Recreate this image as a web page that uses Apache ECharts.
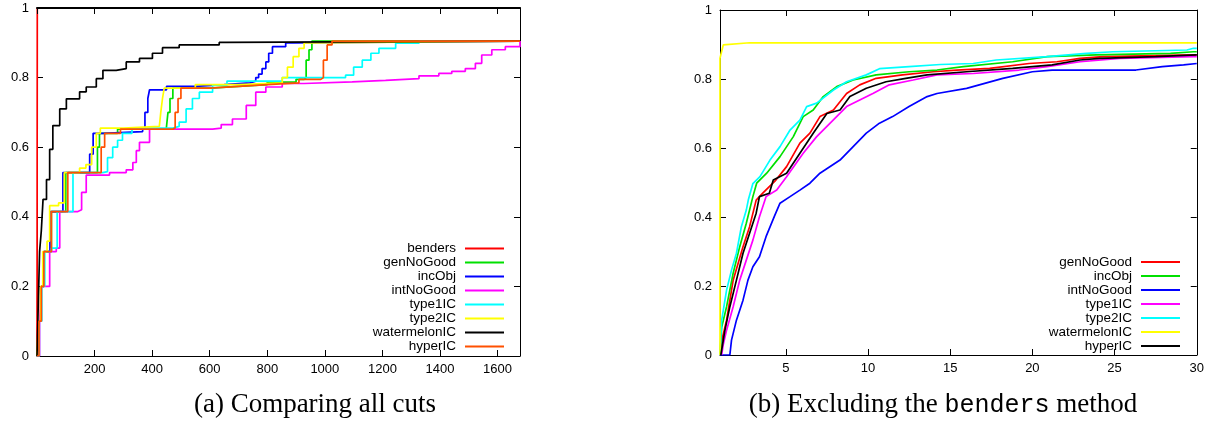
<!DOCTYPE html>
<html><head><meta charset="utf-8">
<script src="https://cdn.jsdelivr.net/npm/echarts@6/dist/echarts.min.js"></script>
<style>html,body{margin:0;padding:0;background:#fff}#c{width:1207px;height:427px}</style>
</head><body><div id="c"></div>
<script>
// ---------- Panel (a): Comparing all cuts ----------
const namesA = ['benders','genNoGood','incObj','intNoGood','type1IC','type2IC','watermelonIC','hyperIC'];
const xTicksA = [200,400,600,800,1000,1200,1400,1600];
const xMaxA = 1678;
const a_benders = [[0,0],[1,1],[1678,1]];
const a_genNoGood = [[0,0],[7,0.1],[15,0.2],[24,0.3],[50,0.415],[100,0.527],[210,0.6],[217,0.64],[280,0.652],[449,0.655],[455,0.7],[462,0.74],[472,0.77],[600,0.775],[700,0.78],[800,0.787],[900,0.795],[928,0.8],[935,0.85],[945,0.88],[955,0.905],[1678,0.905]];
const a_incObj = [[0,0],[7,0.1],[15,0.2],[24,0.3],[45,0.415],[90,0.527],[183,0.58],[195,0.64],[230,0.645],[367,0.655],[375,0.7],[385,0.74],[391,0.765],[450,0.775],[550,0.78],[650,0.785],[740,0.79],[760,0.8],[770,0.81],[782,0.826],[795,0.845],[805,0.87],[818,0.889],[864,0.9],[887,0.905],[1678,0.905]];
const a_intNoGood = [[0,0],[9,0.1],[15,0.2],[44,0.3],[67,0.31],[79,0.415],[142,0.42],[155,0.47],[171,0.52],[252,0.527],[310,0.535],[333,0.556],[345,0.59],[356,0.614],[391,0.652],[610,0.655],[640,0.665],[679,0.681],[727,0.72],[760,0.758],[795,0.773],[852,0.783],[928,0.788],[1095,0.792],[1211,0.797],[1327,0.805],[1396,0.812],[1441,0.818],[1488,0.826],[1523,0.841],[1545,0.865],[1580,0.88],[1627,0.889],[1678,0.905]];
const a_type1IC = [[0,0],[8,0.1],[16,0.2],[27,0.3],[50,0.31],[70,0.415],[125,0.527],[228,0.53],[245,0.57],[263,0.6],[280,0.62],[297,0.64],[330,0.655],[472,0.66],[494,0.672],[518,0.71],[540,0.74],[564,0.758],[610,0.778],[660,0.79],[852,0.8],[1072,0.807],[1100,0.83],[1130,0.85],[1160,0.87],[1188,0.884],[1246,0.899],[1327,0.905],[1678,0.905]];
const a_type2IC = [[0,0],[5,0.1],[12,0.2],[20,0.3],[35,0.33],[44,0.432],[75,0.44],[95,0.527],[148,0.54],[170,0.55],[190,0.6],[206,0.64],[220,0.655],[300,0.66],[425,0.665],[430,0.7],[436,0.74],[442,0.77],[550,0.78],[700,0.785],[852,0.8],[870,0.83],[890,0.86],[910,0.884],[928,0.9],[955,0.905],[1678,0.905]];
const a_watermelonIC = [[0,0],[3,0.1],[6,0.2],[9,0.3],[15,0.36],[21,0.45],[33,0.507],[44,0.594],[55,0.662],[79,0.71],[102,0.739],[148,0.759],[171,0.773],[206,0.797],[229,0.821],[275,0.826],[310,0.845],[356,0.855],[401,0.87],[436,0.886],[494,0.894],[633,0.901],[656,0.905],[1678,0.905]];
const a_hyperIC = [[0,0],[7,0.1],[15,0.2],[24,0.3],[50,0.415],[107,0.527],[223,0.6],[235,0.64],[290,0.652],[472,0.655],[480,0.7],[490,0.74],[500,0.77],[600,0.775],[700,0.78],[800,0.785],[910,0.795],[986,0.8],[995,0.85],[1008,0.894],[1025,0.905],[1678,0.905]];

// ---------- Panel (b): Excluding the benders method ----------
const namesB = ['genNoGood','incObj','intNoGood','type1IC','type2IC','watermelonIC','hyperIC'];
const xTicksB = [5,10,15,20,25,30];
const b_genNoGood = [[1,0],[1.15,0.05],[1.4,0.101],[1.8,0.217],[2.4,0.314],[2.8,0.372],[3.2,0.449],[3.6,0.469],[4.0,0.488],[4.4,0.507],[5.05,0.546],[5.86,0.614],[6.47,0.643],[7.08,0.691],[7.9,0.71],[8.7,0.758],[9.5,0.783],[10.5,0.802],[12.1,0.812],[13.97,0.821],[15.4,0.826],[17.4,0.831],[19.8,0.845],[21.5,0.85],[22.9,0.86],[24.3,0.865],[29.8,0.87],[30,0.87]];
const b_incObj = [[1,0],[1.1,0.08],[1.4,0.14],[1.8,0.237],[2.2,0.314],[2.6,0.382],[3.0,0.459],[3.23,0.498],[3.84,0.527],[4.65,0.575],[5.46,0.633],[6.06,0.691],[6.67,0.71],[7.28,0.749],[8.1,0.778],[9.1,0.797],[10.5,0.812],[12.5,0.821],[14.2,0.826],[15.8,0.836],[18.8,0.85],[20.9,0.865],[23.9,0.87],[28.4,0.874],[29.8,0.879],[30,0.879]];
const b_intNoGood = [[1,0],[1.6,0],[1.7,0.043],[2.0,0.101],[2.4,0.159],[2.7,0.217],[3.0,0.256],[3.4,0.285],[3.8,0.343],[4.3,0.401],[4.65,0.44],[5.26,0.459],[5.86,0.478],[6.47,0.498],[7.08,0.527],[8.3,0.565],[9.1,0.604],[9.9,0.643],[10.7,0.672],[11.5,0.691],[12.5,0.72],[13.6,0.749],[14.2,0.758],[16.0,0.773],[18.2,0.802],[20.0,0.821],[21.2,0.826],[26.3,0.826],[27.9,0.836],[29.2,0.841],[30,0.845]];
const b_type1IC = [[1.1,0],[1.2,0.03],[1.4,0.072],[1.8,0.14],[2.2,0.217],[2.6,0.275],[3.0,0.333],[3.4,0.401],[3.8,0.459],[4.45,0.478],[5.05,0.517],[6.06,0.585],[6.88,0.633],[7.7,0.672],[8.7,0.72],[9.5,0.739],[10.3,0.758],[11.3,0.783],[12.75,0.797],[14.2,0.812],[16.4,0.816],[19.2,0.826],[20.9,0.836],[22.9,0.85],[25.3,0.86],[29.8,0.865],[30,0.865]];
const b_type2IC = [[1,0],[1.05,0.05],[1.1,0.1],[1.4,0.188],[1.7,0.246],[2.0,0.295],[2.3,0.372],[2.6,0.42],[2.72,0.449],[3.0,0.497],[3.43,0.517],[4.04,0.565],[4.65,0.604],[5.26,0.652],[5.86,0.681],[6.27,0.72],[6.88,0.73],[7.9,0.768],[8.7,0.792],[9.9,0.812],[10.7,0.83],[12.5,0.836],[14.4,0.842],[16.4,0.845],[17.8,0.855],[20.9,0.865],[23.3,0.874],[24.9,0.879],[29.4,0.884],[29.8,0.889],[30,0.889]];
const b_watermelonIC = [[1,0],[1,0.86],[1.2,0.899],[2.8,0.905],[30,0.905]];
const b_hyperIC = [[1.05,0],[1.1,0.005],[1.3,0.072],[1.6,0.14],[2.0,0.217],[2.4,0.295],[2.8,0.353],[3.2,0.411],[3.4,0.459],[4.0,0.469],[4.24,0.507],[5.05,0.527],[5.86,0.585],[6.67,0.643],[7.5,0.7],[8.3,0.71],[8.9,0.749],[9.9,0.773],[11.1,0.792],[12.3,0.802],[13.6,0.812],[16.0,0.821],[18.8,0.831],[21.2,0.841],[22.9,0.855],[24.1,0.86],[27.5,0.865],[30,0.87]];

const dataA = [a_benders,a_genNoGood,a_incObj,a_intNoGood,a_type1IC,a_type2IC,a_watermelonIC,a_hyperIC];
const colorsA = ['#ff0000','#00e000','#0000ff','#ff00ff','#00ffff','#ffff00','#000000','#ff5000'];
const dataB = [b_genNoGood,b_incObj,b_intNoGood,b_type1IC,b_type2IC,b_watermelonIC,b_hyperIC];
const colorsB = ['#ff0000','#00e000','#0000ff','#ff00ff','#00ffff','#ffff00','#000000'];

const FONT = '"Liberation Sans", Arial, sans-serif';
const tickLabel = {color:'#000', fontFamily: FONT, fontSize: 13};
function axLine(w) { return {show:true, onZero:false, lineStyle:{color:'#000', width:w || 1}}; }
const tick = {show:true, inside:true, length:6, lineStyle:{color:'#000'}};

function xAx(grid, pos, min, max, opts) {
  return Object.assign({type:'value', gridIndex:grid, position:pos, min:min, max:max,
    axisLine:axLine(1), splitLine:{show:false}, axisTick:tick, axisLabel:{show:false}}, opts || {});
}
function yAx(grid, pos, opts) {
  return Object.assign({type:'value', gridIndex:grid, position:pos, min:0, max:1, interval:0.2,
    axisLine:axLine(1), splitLine:{show:false}, axisTick:tick, axisLabel:{show:false}}, opts || {});
}

const series = [];
namesA.forEach((n,i)=>series.push({name:n, type:'line', xAxisIndex:0, yAxisIndex:0, data:dataA[i],
  step:'end', symbol:'none', showSymbol:false, color:colorsA[i], lineStyle:{width:1.7, color:colorsA[i]},
  animation:false, silent:true}));
namesB.forEach((n,i)=>series.push({name:'b:'+n, type:'line', xAxisIndex:2, yAxisIndex:2, data:dataB[i],
  symbol:'none', showSymbol:false, color:colorsB[i], lineStyle:{width:1.7, color:colorsB[i]},
  animation:false, silent:true}));

function legend(names, right, top, lh) {
  return {data:names, orient:'vertical', align:'right', right:right, top:top, padding:0, itemGap:0,
    icon:'rect', itemWidth:39, itemHeight:2, selectedMode:false,
    formatter: n => '{a|' + n.replace(/^b:/,'') + '}',
    textStyle:{rich:{a:{fontFamily:FONT, fontSize:13.5, color:'#000', width:110, align:'right',
      lineHeight:lh, padding:[0,4,0,0]}}}};
}

const option = {
  animation:false,
  backgroundColor:'#fff',
  grid:[{left:37, right:687, top:8, bottom:71},{left:720, right:10, top:10, bottom:72}],
  xAxis:[
    xAx(0,'bottom',0,xMaxA,{interval:200,
      axisLabel:{show:true, margin:7, ...tickLabel, formatter:v => xTicksA.includes(v) ? String(v) : ''}}),
    xAx(0,'top',0,xMaxA,{interval:200, zlevel:1, axisLine:axLine(2)}),
    xAx(1,'bottom',1,30,{axisTick:Object.assign({customValues:xTicksB}, tick),
      axisLabel:{show:true, margin:7, ...tickLabel, customValues:xTicksB}}),
    xAx(1,'top',1,30,{axisTick:Object.assign({customValues:xTicksB}, tick)})
  ],
  yAxis:[
    yAx(0,'left',{axisLabel:{show:true, margin:8, ...tickLabel}}),
    yAx(0,'right'),
    yAx(1,'left',{axisLabel:{show:true, margin:8, ...tickLabel}}),
    yAx(1,'right')
  ],
  legend:[
    legend(namesA, 1207-504, 241.5, 13.67),
    legend(namesB.map(n=>'b:'+n), 1207-1180, 255, 13.33)
  ],
  series:series,
  graphic:[
    {type:'text', x:315, y:405, style:{text:'(a) Comparing all cuts', fontFamily:'"Liberation Serif", serif',
      fontSize:27, fill:'#000', align:'center', verticalAlign:'middle'}},
    {type:'text', x:943, y:405, style:{text:'{s|(b) Excluding the }{m|benders}{s| method}',
      align:'center', verticalAlign:'middle',
      rich:{s:{fontFamily:'"Liberation Serif", serif', fontSize:27, fill:'#000', color:'#000'},
            m:{fontFamily:'"Liberation Mono", monospace', fontSize:25, fill:'#000', color:'#000'}}}}
  ]
};
const chart = echarts.init(document.getElementById('c'), null, {renderer:'canvas'});
chart.setOption(option);
</script></body></html>
